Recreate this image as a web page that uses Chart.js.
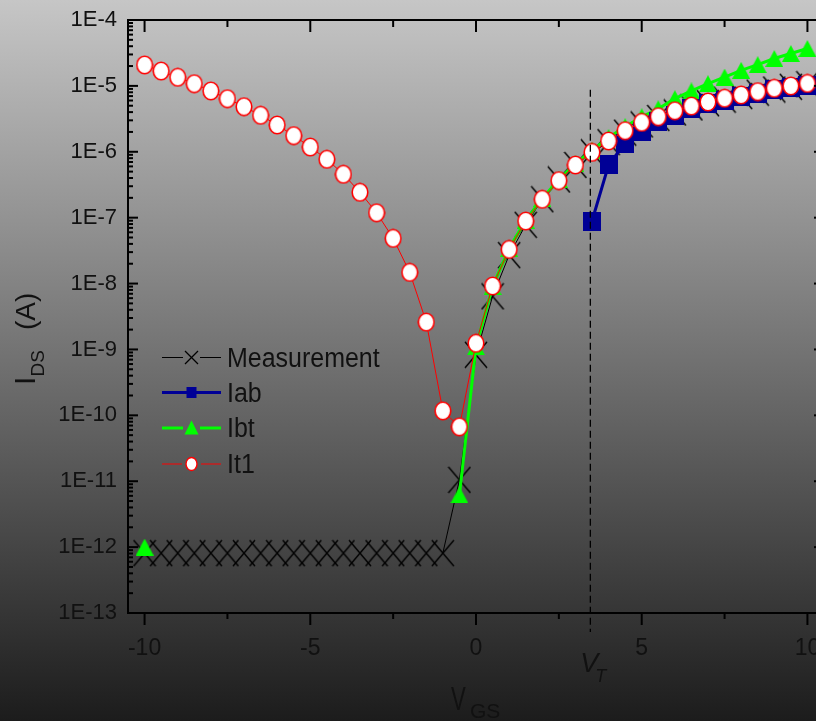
<!DOCTYPE html>
<html><head><meta charset="utf-8">
<script src="https://cdn.jsdelivr.net/npm/chart.js@4.4.1/dist/chart.umd.min.js"></script>
<style>
html,body{margin:0;padding:0;overflow:hidden;width:816px;height:721px;background:linear-gradient(#c6c6c6,#1c1c1c);}
canvas{display:block}
</style></head><body>
<canvas id="c" width="832" height="721"></canvas>
<script>
// ---- data ----
const XS = [-10,-9.5,-9,-8.5,-8,-7.5,-7,-6.5,-6,-5.5,-5,-4.5,-4,-3.5,-3,-2.5,-2,-1.5,-1,-0.5,0,0.5,1,1.5,2,2.5,3,3.5,4,4.5,5,5.5,6,6.5,7,7.5,8,8.5,9,9.5,10];
const MEASUREMENT = [8.1e-13,8.1e-13,8.1e-13,8.1e-13,8.1e-13,8.1e-13,8.1e-13,8.1e-13,8.1e-13,8.1e-13,8.1e-13,8.1e-13,8.1e-13,8.1e-13,8.1e-13,8.1e-13,8.1e-13,8.1e-13,8.1e-13,
  1.05e-11,8.3e-10,6.4e-9,2.7e-8,7.8e-8,1.9e-7,3.8e-7,6.3e-7,9.8e-7,1.4e-6,1.95e-6,2.6e-6,3.25e-6,3.95e-6,4.7e-6,5.45e-6,6.2e-6,7.0e-6,7.9e-6,8.8e-6,9.7e-6,1.06e-5];
const IAB = [null,null,null,null,null,null,null,null,null,null,null,null,null,null,null,null,null,null,null,null,null,null,null,null,null,null,null,
  8.9e-8,6.3e-7,1.35e-6,2.0e-6,2.86e-6,3.6e-6,4.6e-6,5.45e-6,6.1e-6,6.9e-6,7.7e-6,8.7e-6,9.5e-6,1.03e-5];
const IBT = [1.0e-12,null,null,null,null,null,null,null,null,null,null,null,null,null,null,null,null,null,null,
  6.2e-12,1.1e-9,9.0e-9,3.4e-8,9.1e-8,1.95e-7,3.8e-7,6.6e-7,1.05e-6,1.65e-6,2.4e-6,3.4e-6,4.5e-6,6.4e-6,8.4e-6,1.08e-5,1.36e-5,1.72e-5,2.1e-5,2.6e-5,3.1e-5,3.7e-5];
const IT1 = [2.08e-5,1.68e-5,1.35e-5,1.08e-5,8.4e-6,6.4e-6,4.84e-6,3.58e-6,2.55e-6,1.76e-6,1.18e-6,7.7e-7,4.55e-7,2.43e-7,1.19e-7,4.86e-8,1.48e-8,2.6e-9,1.17e-10,
  6.7e-11,1.24e-9,9.2e-9,3.3e-8,8.9e-8,1.9e-7,3.65e-7,6.3e-7,9.8e-7,1.46e-6,2.09e-6,2.8e-6,3.41e-6,4.2e-6,4.95e-6,5.7e-6,6.5e-6,7.3e-6,8.2e-6,9.2e-6,1.0e-5,1.09e-5];
const X_TICKS = [-10,-5,0,5,10];
const X_MINOR = [-7.5,-2.5,2.5,7.5];
const Y_TICKS = [1e-13,1e-12,1e-11,1e-10,1e-9,1e-8,1e-7,1e-6,1e-5,1e-4];
const VT = 3.45;
const VT_TOP = 8.7e-6;
const LEGEND = ['Measurement','Iab','Ibt','It1'];

const FONT = '"Liberation Sans", Arial, sans-serif';
const pts = arr => XS.map((x,i)=>({x, y: arr[i]}));

function mk(w,h,draw){ const c=document.createElement('canvas'); c.width=w; c.height=h; draw(c.getContext('2d'),w,h); return c; }
const CIRCLE = mk(18,20,g=>{ g.beginPath(); g.ellipse(9,10,7.8,8.8,0,0,Math.PI*2); g.fillStyle='#fff'; g.fill(); g.lineWidth=1.6; g.strokeStyle='#ff0000'; g.stroke(); });
const XMARK = mk(24,28,g=>{ g.strokeStyle='#000'; g.lineWidth=1.4; g.beginPath(); g.moveTo(1,1); g.lineTo(23,27); g.moveTo(23,1); g.lineTo(1,27); g.stroke(); });
const SQUARE = mk(18,19,g=>{ g.fillStyle='#000096'; g.fillRect(0,0,18,19); });
const TRI = mk(18,17,g=>{ g.fillStyle='#00ff00'; g.beginPath(); g.moveTo(9,0); g.lineTo(18,17); g.lineTo(0,17); g.closePath(); g.fill(); });

const decor = {
  id:'decor',
  afterDatasetsDraw(chart){
    const {ctx, chartArea:a, scales:{x,y}} = chart;
    const line=(x1,y1,x2,y2)=>{ctx.beginPath();ctx.moveTo(x1,y1);ctx.lineTo(x2,y2);ctx.stroke();};
    ctx.save();
    ctx.strokeStyle='#000';
    // V_T dashed line
    ctx.lineWidth=1.3; ctx.setLineDash([7,4]);
    const vx = x.getPixelForValue(VT);
    line(vx, y.getPixelForValue(VT_TOP), vx, a.bottom+19);
    ctx.setLineDash([]);
    // frame
    ctx.lineWidth=2;
    ctx.strokeRect(a.left, a.top, a.right-a.left, a.bottom-a.top);
    X_TICKS.forEach(v=>{const p=x.getPixelForValue(v); line(p,a.bottom,p,a.bottom+12); line(p,a.top,p,a.top+12);});
    X_MINOR.forEach(v=>{const p=x.getPixelForValue(v); line(p,a.bottom,p,a.bottom+6); line(p,a.top,p,a.top+7);});
    Y_TICKS.forEach((v,i)=>{
      const p=y.getPixelForValue(v); line(a.left,p,a.left+10,p); line(a.right,p,a.right-10,p);
      if(i<Y_TICKS.length-1){ for(let m=2;m<=9;m++){ const q=y.getPixelForValue(v*m); line(a.left,q,a.left+5,q); line(a.right,q,a.right-5,q);} }
    });
    // V_T label
    ctx.fillStyle='#111'; ctx.textBaseline='alphabetic'; ctx.textAlign='left';
    ctx.font='italic 27px '+FONT; ctx.fillText('V', vx-10, a.bottom+59);
    ctx.font='italic 18px '+FONT; ctx.fillText('T', vx+5, a.bottom+69);
    // X title
    ctx.save(); ctx.translate(451, 710); ctx.scale(0.65,1); ctx.font='34px '+FONT; ctx.fillText('V',0,0); ctx.restore();
    ctx.font='21px '+FONT; ctx.fillText('GS', 470, 718);
    // Y title
    ctx.save(); ctx.translate(35, 385); ctx.rotate(-Math.PI/2);
    ctx.font='30px '+FONT; ctx.fillText('I', 0, 0);
    ctx.font='19px '+FONT; ctx.fillText('DS', 8.5, 9);
    ctx.font='28px '+FONT; ctx.fillText('(A)', 55, 0);
    ctx.restore();
    // legend
    const L0=162, L1=221, MX=191.5, TX=227;
    const rows=[357.5,392.5,428,464];
    ctx.lineWidth=1; line(L0,rows[0],183,rows[0]); line(200,rows[0],L1,rows[0]);
    ctx.lineWidth=1.2; line(MX-6.5,rows[0]-6.5,MX+6.5,rows[0]+6.5); line(MX+6.5,rows[0]-6.5,MX-6.5,rows[0]+6.5);
    ctx.strokeStyle='#000096'; ctx.lineWidth=3; line(L0,rows[1],L1,rows[1]);
    ctx.fillStyle='#000096'; ctx.fillRect(MX-5,rows[1]-5.5,10,11);
    ctx.strokeStyle='#00ff00'; line(L0,rows[2],183,rows[2]); line(200,rows[2],L1,rows[2]);
    ctx.fillStyle='#00ff00'; ctx.beginPath(); ctx.moveTo(MX,rows[2]-7.5); ctx.lineTo(MX+7,rows[2]+6.5); ctx.lineTo(MX-7,rows[2]+6.5); ctx.closePath(); ctx.fill();
    ctx.strokeStyle='#ff0000'; ctx.lineWidth=1; line(L0,rows[3],182,rows[3]); line(201,rows[3],L1,rows[3]);
    ctx.beginPath(); ctx.ellipse(MX,rows[3],5.5,6.5,0,0,Math.PI*2); ctx.fillStyle='#fff'; ctx.fill(); ctx.lineWidth=1.4; ctx.stroke();
    ctx.fillStyle='#111'; ctx.font='27px '+FONT;
    LEGEND.forEach((t,i)=>{ ctx.save(); ctx.translate(TX, rows[i]+9); ctx.scale(0.925,1); ctx.fillText(t,0,0); ctx.restore(); });
    ctx.restore();
  }
};

new Chart(document.getElementById('c'), {
  type:'line',
  data:{ datasets:[
    { label:'It1', data:pts(IT1), borderColor:'#ff0000', borderWidth:1, pointStyle:CIRCLE, pointRadius:8, order:0 },
    { label:'Iab', data:pts(IAB), borderColor:'#000096', borderWidth:3, pointStyle:SQUARE, pointRadius:8, order:1 },
    { label:'Ibt', data:pts(IBT), borderColor:'#00ff00', borderWidth:3, pointStyle:TRI, pointRadius:8, order:2 },
    { label:'Measurement', data:pts(MEASUREMENT), borderColor:'#000', borderWidth:1, pointStyle:XMARK, pointRadius:8, order:3,
      segment:{ borderColor: c => c.p0DataIndex < 18 ? 'rgba(0,0,0,0)' : '#000' } }
  ]},
  options:{
    responsive:false, animation:false,
    layout:{ autoPadding:false, padding:{ top:20, right:8, left:0, bottom:0 } },
    plugins:{ legend:{display:false}, tooltip:{enabled:false} },
    scales:{
      x:{ type:'linear', min:-10.5, max:10.5,
        grid:{display:false, drawTicks:false}, border:{display:false},
        ticks:{ padding:22, autoSkip:false, maxRotation:0, color:'#111', font:{family:FONT, size:23} },
        afterBuildTicks: s => { s.ticks = X_TICKS.map(v=>({value:v})); },
        afterFit: s => { s.height = 108; s.paddingLeft = 0; s.paddingRight = 0; } },
      y:{ type:'logarithmic', min:1e-13, max:1e-4,
        grid:{display:false, drawTicks:false}, border:{display:false},
        ticks:{ padding:11, autoSkip:false, color:'#111', font:{family:FONT, size:22},
          callback: v => '1E' + Math.round(Math.log10(v)) },
        afterBuildTicks: s => { s.ticks = Y_TICKS.map(v=>({value:v})); },
        afterFit: s => { s.width = 128; s.paddingTop = 0; s.paddingBottom = 0; } }
    }
  },
  plugins:[decor]
});
</script></body></html>
